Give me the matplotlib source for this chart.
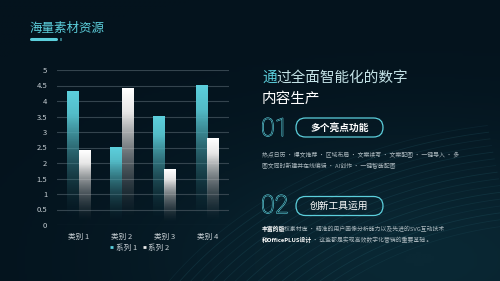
import numpy as np
import matplotlib.pyplot as plt
import matplotlib.patheffects as pe
from matplotlib.patches import FancyBboxPatch
from matplotlib.colors import LinearSegmentedColormap, to_rgb
from matplotlib.lines import Line2D

plt.rcParams['font.family'] = ['Noto Sans CJK SC', 'DejaVu Sans']

# data
categories = ['类别 1', '类别 2', '类别 3', '类别 4']
series1 = [4.3, 2.5, 3.5, 4.5]
series2 = [2.4, 4.4, 1.8, 2.8]
series_names = ['系列 1', '系列 2']
yticks = [0, 0.5, 1, 1.5, 2, 2.5, 3, 3.5, 4, 4.5, 5]

bg = '#04131d'
teal = '#5ccfdc'
para = '#a9b6bc'

fig = plt.figure(figsize=(5, 2.81), dpi=100)
fig.patch.set_facecolor(bg)

# background layer in pixel coords (origin top-left)
bgax = fig.add_axes([0, 0, 1, 1])
bgax.set_xlim(0, 500)
bgax.set_ylim(281, 0)
bgax.axis('off')
xx, yy = np.meshgrid(np.linspace(0, 500, 200), np.linspace(0, 281, 120))
glow = np.exp(-(((xx - 420) / 260) ** 2 + ((yy - 260) / 120) ** 2))
cmap_bg = LinearSegmentedColormap.from_list('bg', [bg, '#0a2834'])
bgax.imshow(glow, extent=[0, 500, 281, 0], cmap=cmap_bg, aspect='auto', zorder=0)
# faint streaks
for k in range(16):
    r = 330 + k * 9
    ang = np.linspace(np.pi * 1.05, np.pi * 1.45, 100)
    bgax.plot(560 + r * np.cos(ang), 470 + r * np.sin(ang) * 0.75, color='#3a8a99',
              alpha=0.10 + 0.03 * (k % 3), lw=0.6, zorder=1)

# overlay for text/shapes in pixel coords
ov = fig.add_axes([0, 0, 1, 1])
ov.set_xlim(0, 500)
ov.set_ylim(281, 0)
ov.axis('off')
ov.set_zorder(5)

# title
ov.text(30, 28, '海量素材资源', color=teal, fontsize=9, va='center', ha='left')
ov.plot([31, 56], [39, 39], color=teal, lw=2.2, solid_capstyle='round')
ov.plot([60, 61], [39, 39], color=teal, lw=2.2, solid_capstyle='butt')

# chart
ax = fig.add_axes([57 / 500, 1 - 225 / 281, 172 / 500, 155 / 281])
ax.set_facecolor('none')
ax.set_zorder(3)
x = np.arange(len(categories))
w = 0.27
grad = np.linspace(0, 1, 100).reshape(-1, 1)


def grad_bar(xc, h, color):
    rgba = np.zeros((100, 1, 4))
    c = np.array(to_rgb(color))
    shade = c * (0.45 + 0.55 * grad)
    rgba[..., :3] = shade.reshape(100, 1, 3)
    rgba[..., 3] = np.clip((grad - 0.05) * 1.3, 0, 1) ** 1.2
    ax.imshow(rgba, extent=[xc - w / 2, xc + w / 2, 0, h], origin='lower',
              aspect='auto', zorder=3, interpolation='bilinear')


for i in range(len(categories)):
    grad_bar(x[i] - w / 2, series1[i], teal)
    grad_bar(x[i] + w / 2, series2[i], '#ffffff')

ax.set_xlim(-0.5, len(categories) - 0.5)
ax.set_ylim(0, 5)
ax.set_yticks(yticks)
ax.set_yticklabels([f'{v:g}' for v in yticks])
ax.set_xticks(x)
ax.set_xticklabels(categories)
ax.yaxis.grid(True, color='#34444e', linewidth=0.8)
ax.set_axisbelow(True)
ax.tick_params(colors='#c5cdd2', labelsize=5.5, length=0, pad=6)
ax.tick_params(axis='y', pad=7)
for s in ax.spines.values():
    s.set_visible(False)

# legend
handles = [Line2D([], [], color=teal, lw=2, solid_capstyle='butt'),
           Line2D([], [], color='#e8e8e8', lw=2, solid_capstyle='butt')]
fig.legend(handles, series_names, loc='center', bbox_to_anchor=(140 / 500, 1 - 248 / 281),
           ncol=2, frameon=False, fontsize=5.5, handlelength=0.4, handletextpad=0.3,
           columnspacing=0.8, labelcolor='#c5cdd2')

# right side heading
ov.text(262, 78, '通', color=teal, fontsize=10.5, va='center', ha='left')
ov.text(276.5, 78, '过全面智能化的数字', color='#c4e3e7', fontsize=10.5, va='center', ha='left')
ov.text(262, 99, '内容生产', color='#ffffff', fontsize=10.5, va='center', ha='left')


def num(y, s):
    ov.text(261, y, s, color=bg, fontsize=18, va='center', ha='left',
            family='Roboto', fontweight='light',
            path_effects=[pe.Stroke(linewidth=0.8, foreground=teal), pe.Normal()])


def pill(y, s, bold):
    ov.add_patch(FancyBboxPatch((296, y - 9.5), 87, 19,
                                boxstyle='round,pad=0,rounding_size=9.5',
                                facecolor='none', edgecolor=teal, linewidth=0.9))
    ov.text(339.5, y, s, color='#ffffff', fontsize=7, va='center', ha='center',
            fontweight='bold' if bold else 'normal')


num(129, '01')
pill(127.5, '多个亮点功能', True)
num(206, '02')
pill(206, '创新工具运用', False)

fs = 4.2
fig.canvas.draw()
r = fig.canvas.get_renderer()


def runs(x0, y, parts):
    xpos = x0
    for txt, col, wt in parts:
        tt = ov.text(xpos, y, txt, color=col, fontsize=fs, va='center', ha='left', fontweight=wt)
        bb = tt.get_window_extent(renderer=r)
        xpos += bb.width * 500 / fig.bbox.width - 1.5


runs(262, 155, [('热点日历 · 爆文推荐 · 区域布局 · 文案续写 · 文案配图 · 一键导入 · 多', para, 'normal')])
runs(262, 166, [('图文同时新建并在线编辑 · AI创作 · 一键智能配图', para, 'normal')])
runs(262, 229, [('丰富的版', '#ffffff', 'bold'),
                ('权素材库 · 精准的用户画像分析能力以及先进的SVG互动技术', para, 'normal')])
runs(262, 240, [('和OfficePLUS设计', '#ffffff', 'bold'),
                (' · 这些都是实现高效数字化营销的重要基础 。', para, 'normal')])

fig.savefig('out.png', dpi=100, facecolor=bg)
